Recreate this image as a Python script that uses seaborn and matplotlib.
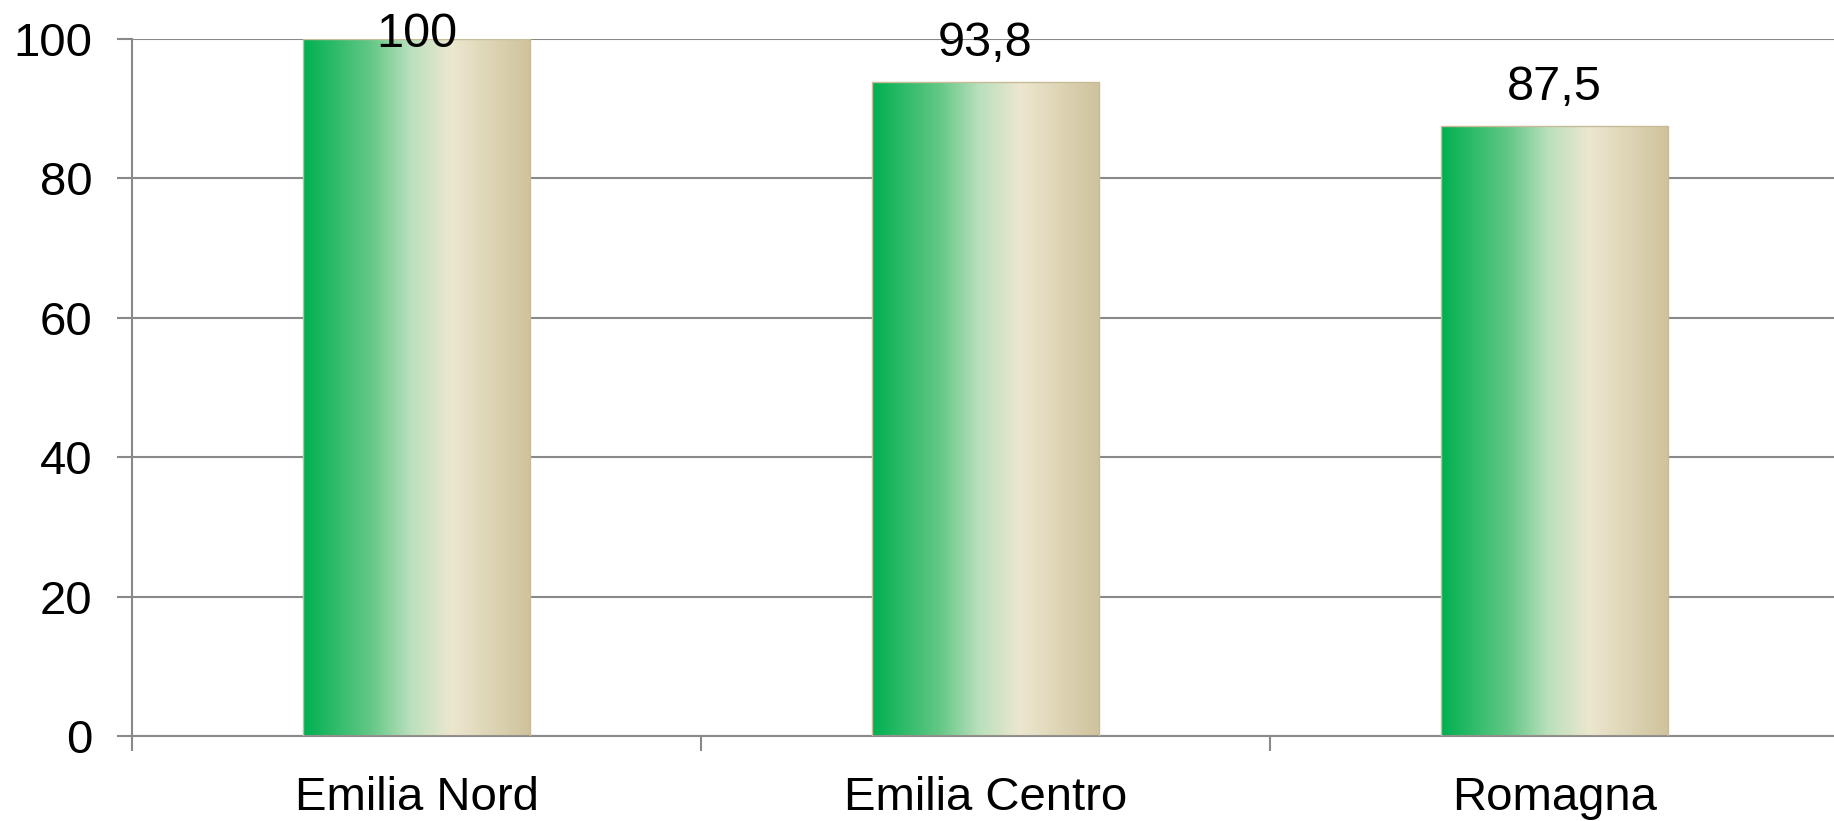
import numpy as np
import pandas as pd
import matplotlib
matplotlib.use('Agg')
import matplotlib.pyplot as plt
from matplotlib.colors import LinearSegmentedColormap
import seaborn as sns

# data
aree = ['Emilia Nord', 'Emilia Centro', 'Romagna']
valori = [100, 93.8, 87.5]
etichette = ['100', '93,8', '87,5']
y_ticks = [0, 20, 40, 60, 80, 100]

sns.set_style('white')
plt.rcParams['font.family'] = ['Liberation Sans', 'DejaVu Sans']
plt.rcParams['text.color'] = 'black'
plt.rcParams['xtick.labelcolor'] = 'black'
plt.rcParams['ytick.labelcolor'] = 'black'

df = pd.DataFrame({'area': aree, 'valore': valori})

fig = plt.figure(figsize=(18.34, 8.21), dpi=100)
ax = fig.add_axes([132 / 1834, 85 / 821, 1707 / 1834, 697 / 821])

sns.barplot(data=df, x='area', y='valore', ax=ax, width=0.4, color='white',
            edgecolor='#c8bb98', linewidth=1.0, zorder=3)

# horizontal gradient fill (green -> cream -> tan) like the original
grad = LinearSegmentedColormap.from_list('verde_sabbia', [
    (0.0, (0 / 255, 176 / 255, 80 / 255)),
    (0.3, (100 / 255, 200 / 255, 135 / 255)),
    (0.47, (185 / 255, 224 / 255, 188 / 255)),
    (0.65, (236 / 255, 231 / 255, 207 / 255)),
    (1.0, (207 / 255, 194 / 255, 156 / 255)),
])
g = np.linspace(0, 1, 256).reshape(1, -1)
for p in ax.patches:
    x0, y0 = p.get_x(), p.get_y()
    w, h = p.get_width(), p.get_height()
    ax.imshow(g, cmap=grad, aspect='auto', extent=[x0, x0 + w, y0, y0 + h],
              zorder=2, interpolation='bicubic')
    p.set_facecolor('none')

# value labels, kept inside the plot area at the top
for i, (v, lab) in enumerate(zip(valori, etichette)):
    ax.text(i, min(v + 3.7, 98.85), lab, ha='center', va='baseline',
            fontsize=35, color='black', zorder=5, clip_on=False)

ax.set_xlim(-0.5, 2.5)
ax.set_ylim(0, 100)
ax.set_yticks(y_ticks)
ax.set_yticklabels([str(t) for t in y_ticks])
ax.yaxis.grid(True, color='#898989', linewidth=1.5, zorder=0)
ax.set_axisbelow(True)
ax.set_xlabel('')
ax.set_ylabel('')

for s in ['top', 'right']:
    ax.spines[s].set_visible(False)
ax.spines['left'].set_color('#898989')
ax.spines['left'].set_linewidth(1.5)
ax.spines['bottom'].set_color('#898989')
ax.spines['bottom'].set_linewidth(1.5)

# tick marks between categories, labels at centres
ax.set_xticks([-0.5, 0.5, 1.5, 2.5], minor=True)
ax.tick_params(axis='x', which='major', length=0, pad=28.5, labelsize=34)
ax.tick_params(axis='x', which='minor', length=11, width=1.5, color='#898989',
               direction='out', bottom=True)
ax.tick_params(axis='y', length=11, width=1.5, color='#898989', direction='out',
               left=True, pad=17.5, labelsize=34)

fig.savefig('out.png', dpi=100)
